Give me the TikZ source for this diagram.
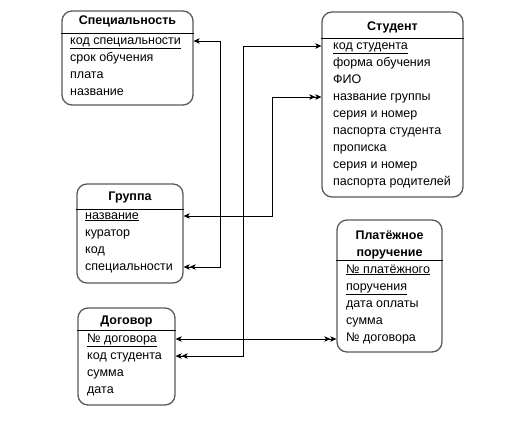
\documentclass[tikz,border=0pt]{standalone}
\usepackage{fontspec}
\setmainfont{Liberation Sans}
\usetikzlibrary{arrows.meta}
\tikzset{
  entity/.style={draw=black!65, line width=1.3pt, rounded corners=10pt, inner sep=0pt},
  title/.style={font=\fontsize{12.5}{17}\selectfont\bfseries, inner sep=0pt, align=center},
  field/.style={anchor=west, inner sep=0pt, text height=9pt, text depth=3pt,
                font=\fontsize{12.5}{15}\selectfont},
  link/.style={draw, line width=0.8pt},
  >={Stealth[length=6pt,width=5.5pt,inset=1.5pt]}
}

\begin{document}
\begin{tikzpicture}[x=1pt,y=-1pt]
\useasboundingbox (0,0) rectangle (513,426);
\coordinate (busA) at (220,0);
\coordinate (busB) at (243,0);
\coordinate (busC) at (272,0);

% Специальность
\node[entity, minimum width=131, minimum height=94] (spec) at (127.5,58) {};
\draw (spec.west |- 0,33) -- (spec.east |- 0,33);
\node[title] (spec-t) at (127.5,21) {Специальность};
\foreach \t [count=\i] in {\underline{код специальности}, срок обучения, плата, название}
  \node[field] (s\i) at (70,{24+17*\i}) {\t};

% Студент
\node[entity, minimum width=141, minimum height=185] (st) at (392.5,104.5) {};
\draw (st.west |- 0,38) -- (st.east |- 0,38);
\node[title] (st-t) at (392.5,27) {Студент};
\foreach \t [count=\i] in {\underline{код студента}, форма обучения, ФИО, название группы,
    серия и номер, паспорта студента, прописка, серия и номер, паспорта родителей}
  \node[field] (t\i) at (333,{29+17*\i}) {\t};

% Группа
\node[entity, minimum width=106, minimum height=99] (gr) at (130,233.5) {};
\draw (gr.west |- 0,209) -- (gr.east |- 0,209);
\node[title] (gr-t) at (130,197) {Группа};
\foreach \t [count=\i] in {\underline{название}, куратор, код, специальности}
  \node[field] (g\i) at (85,{199+17*\i}) {\t};

% Договор
\node[entity, minimum width=97, minimum height=97] (dog) at (126.5,356.5) {};
\draw (dog.west |- 0,330) -- (dog.east |- 0,330);
\node[title] (dog-t) at (126.5,321) {Договор};
\foreach \t [count=\i] in {\underline{№ договора}, код студента, сумма, дата}
  \node[field] (d\i) at (87,{322+17*\i}) {\t};

% Платёжное поручение
\node[entity, minimum width=105, minimum height=132] (pay) at (389.5,286) {};
\draw (pay.west |- 0,260) -- (pay.east |- 0,260);
\node[title] (pay-t) at (389.5,244.5) {Платёжное\\поручение};
\foreach \t [count=\i] in {\underline{№ платёжного}, \underline{поручения}, дата оплаты, сумма, № договора}
  \node[field] (p\i) at (346,{253+17*\i}) {\t};

% связи
\draw[link, <<->] (gr.east |- g4) -- (busA |- g4) -- (busA |- s1) -- (spec.east |- s1);
\draw[link, <->>] (st.west |- t1) -- (busB |- t1) -- (busB |- d2) -- (dog.east |- d2);
\draw[link, <<->] (st.west |- t4) -- (busC |- t4) -- (busC |- g1) -- (gr.east |- g1);
\draw[link, <->>] (dog.east |- d1) -- (pay.west |- d1);
\end{tikzpicture}
\end{document}
